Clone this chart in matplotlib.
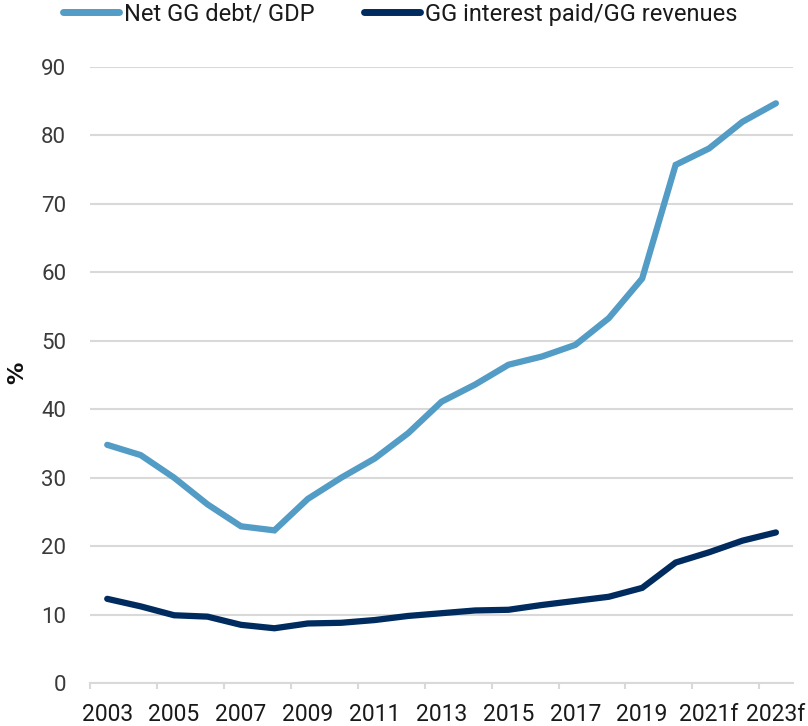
import matplotlib
matplotlib.use("Agg")
import matplotlib.pyplot as plt
import numpy as np

years = ["2003", "2004", "2005", "2006", "2007", "2008", "2009", "2010", "2011",
         "2012", "2013", "2014", "2015", "2016", "2017", "2018", "2019", "2020",
         "2021f", "2022f", "2023f"]
net_debt = [34.8, 33.3, 30.0, 26.1, 22.9, 22.3, 26.9, 30.0, 32.8,
            36.5, 41.1, 43.6, 46.5, 47.7, 49.4, 53.3, 59.1, 75.7,
            78.1, 82.0, 84.7]
interest = [12.3, 11.2, 9.9, 9.7, 8.5, 8.0, 8.7, 8.8, 9.2,
            9.8, 10.2, 10.6, 10.7, 11.4, 12.0, 12.6, 13.9, 17.6,
            19.1, 20.8, 22.0]
series_names = ["Net GG debt/ GDP", "GG interest paid/GG revenues"]
colors = ["#529CC5", "#002B5F"]

fam = ["Roboto", "DejaVu Sans"]
plt.rcParams["font.family"] = fam

fig = plt.figure(figsize=(8.08, 7.26), dpi=100)
ax = fig.add_axes([0.112, 0.0592, 0.869, 0.8485])

x = np.arange(len(years))
ax.plot(x, net_debt, color=colors[0], lw=4.5, solid_capstyle="round", solid_joinstyle="miter", label=series_names[0])
ax.plot(x, interest, color=colors[1], lw=4.5, solid_capstyle="round", solid_joinstyle="miter", label=series_names[1])

ax.set_xlim(-0.5, len(years) - 0.5)
ax.set_ylim(0, 90)
ax.set_yticks(np.arange(0, 91, 10))
ax.yaxis.grid(True, color="#D9D9D9", lw=1.5)
ax.set_axisbelow(True)
for s in ["top", "right", "left"]:
    ax.spines[s].set_visible(False)
ax.spines["bottom"].set_color("#D9D9D9")
ax.spines["bottom"].set_linewidth(1.5)

# tick marks at category boundaries, labels at category centers
ax.set_xticks(np.arange(-0.5, len(years) - 1, 2))
ax.set_xticklabels([])
ax.tick_params(axis="x", which="major", length=4.5, width=1.5, color="#D9D9D9")
ax.set_xticks(x[::2], minor=True)
ax.set_xticklabels(years[::2], minor=True, fontsize=16.5, color="#1A1A1A")
ax.tick_params(axis="x", which="minor", length=0, pad=14.5)

ax.tick_params(axis="y", length=0, pad=17.5, labelsize=16, labelcolor="#3A3A3A")

fig.text(17.5 / 808, 1 - 373 / 726, "%", rotation=90, ha="center", va="center",
         fontsize=16, fontweight="bold", color="#111111", family=["DejaVu Sans"])

leg = fig.legend(loc="center", bbox_to_anchor=(400 / 808, 1 - 14 / 726), ncol=2, frameon=False,
                 prop={"size": 17}, handlelength=2.37,
                 handletextpad=0.2, columnspacing=2.1)
for t in leg.get_texts():
    t.set_color("#1A1A1A")
for h in leg.get_lines():
    h.set_linewidth(5)

fig.savefig("out.png", dpi=100)
